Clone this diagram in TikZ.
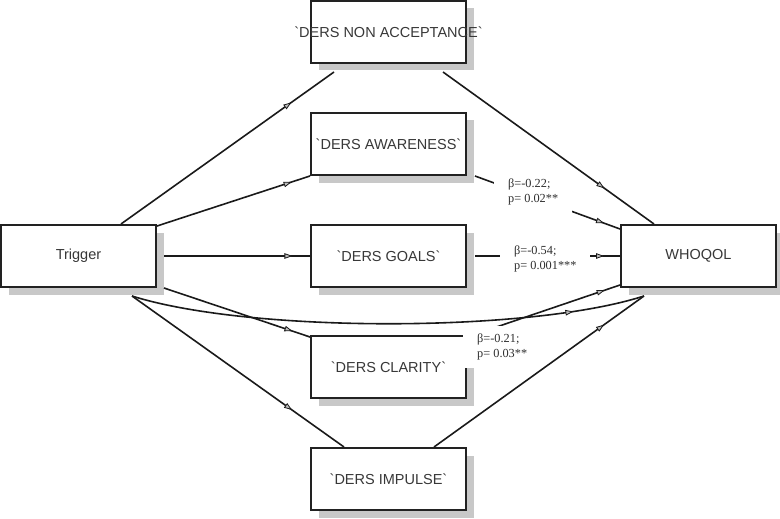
\documentclass[tikz,border=0pt]{standalone}
\usepackage{fontspec}
\setmainfont{Liberation Sans}
\newfontfamily\labfont{Liberation Serif}
\usepackage{tikz}
\usetikzlibrary{arrows.meta, calc, shadows, decorations.markings}
\definecolor{boxline}{HTML}{222222}
\definecolor{boxtext}{HTML}{383838}
\definecolor{boxshade}{HTML}{C8C8C8}
\definecolor{linecol}{HTML}{1A1A1A}
\definecolor{tipfill}{HTML}{BEBEBE}
\definecolor{labtext}{HTML}{2E2E2E}
\newcommand{\dersname}[1]{\makebox[0pt]{\textasciigrave DERS #1\textasciigrave}}

\begin{document}
\begin{tikzpicture}[x=1pt, y=-1pt,
  vbox/.style={draw=boxline, line width=2pt, fill=white, minimum width=155pt, minimum height=62pt, inner sep=0pt, font=\fontsize{14.5}{16}\selectfont, text=boxtext, drop shadow={shadow xshift=7.5pt, shadow yshift=-7.5pt, fill=boxshade, opacity=1}},
  coef/.style={fill=white, inner xsep=14pt, inner ysep=8pt, align=left, font=\labfont\fontsize{12.3}{15}\selectfont, text=labtext},
  conn/.style={draw=linecol, line width=1.6pt},
  tipat/.style={postaction={decorate}, decoration={markings, mark=at position #1 with {\arrow{Triangle[length=8pt, width=5.5pt, fill=tipfill, line width=0.8pt]}}}}
]
\useasboundingbox (0,0) rectangle (780,519);
\node[vbox] (trigger) at (78.5,256) {Trigger};
\node[vbox] (nonacc) at (388.5,32) {\dersname{NON ACCEPTANCE}};
\node[vbox] (aware) at (388.5,144) {\dersname{AWARENESS}};
\node[vbox] (goals) at (388.5,256) {\dersname{GOALS}};
\node[vbox] (clarity) at (388.5,367) {\dersname{CLARITY}};
\node[vbox] (impulse) at (388.5,479) {\dersname{IMPULSE}};
\node[vbox] (whoqol) at (698.5,256) {WHOQOL};
% paths from Trigger
\draw[conn, tipat=0.80] ($(trigger.north west)+(121,0)$) -- ($(nonacc.south west)+(24,8)$);
\draw[conn, tipat=0.88] ($(trigger.north east)+(0,2)$) -- (aware.south west);
\draw[conn, tipat=0.88] ($(trigger.east)+(7,0)$) -- (goals.west);
\draw[conn, tipat=0.88] ($(trigger.south east)+(7,0)$) -- ($(clarity.north west)+(0,2)$);
\draw[conn, tipat=0.755] ($(trigger.south west)+(132,8)$) -- ($(impulse.north west)+(34,0)$);
\draw[conn, tipat=0.86] ($(trigger.south west)+(132,8)$) .. controls +(117,37) and +(-115,37) .. ($(whoqol.south west)+(24,8)$);
% paths into WHOQOL
\draw[conn, tipat=0.765] ($(nonacc.south east)+(-24,8)$) -- ($(whoqol.north west)+(34,0)$);
\draw[conn, tipat=0.89] ($(aware.south east)+(8,0)$) -- ($(whoqol.north west)+(0,5)$);
\draw[conn, tipat=0.89] ($(goals.east)+(8,0)$) -- (whoqol.west);
\draw[conn, tipat=0.90] ($(clarity.north east)+(0,2)$) -- ($(whoqol.south west)+(0,-3)$);
\draw[conn, tipat=0.81] ($(impulse.north east)+(-33,0)$) -- ($(whoqol.south west)+(24,8)$);
% coefficients
\node[coef, anchor=west] (awarecoef) at (494,192) {β=-0.22;\\p= 0.02**};
\node[coef, anchor=west] (goalscoef) at (500,259) {β=-0.54;\\p= 0.001***};
\node[coef, anchor=west] (claritycoef) at (463,347) {β=-0.21;\\p= 0.03**};
\end{tikzpicture}
\end{document}
